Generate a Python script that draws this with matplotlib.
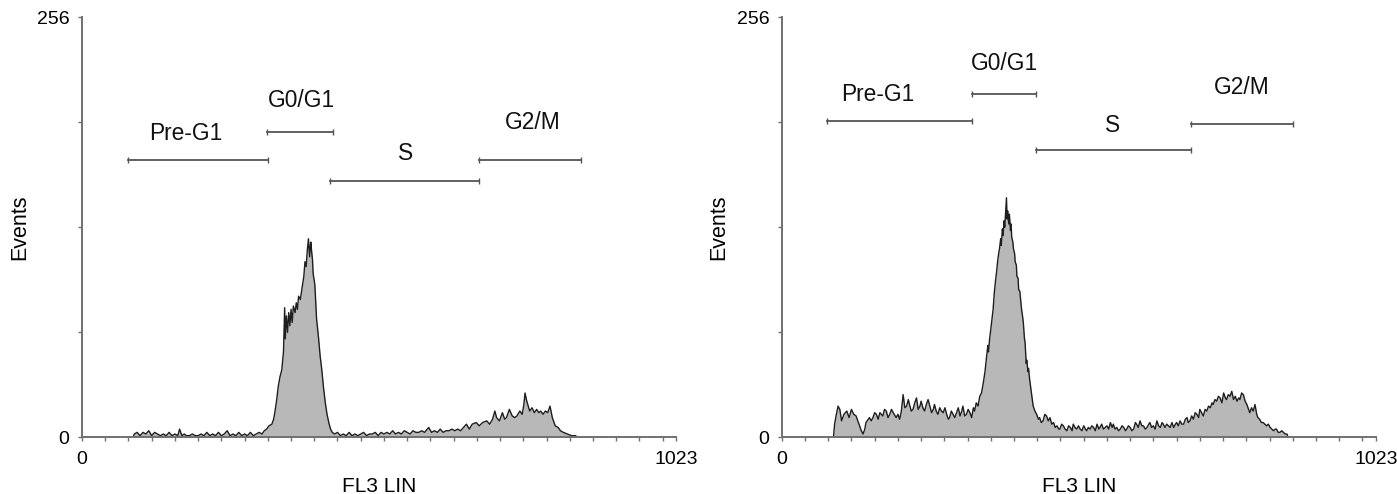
import numpy as np
import matplotlib.pyplot as plt
from matplotlib.ticker import FixedLocator, NullFormatter

plt.rcParams['font.family'] = ['Liberation Sans', 'DejaVu Sans']

# (channel, events) for the untreated sample, left histogram
hist_a = [(88, 0), (90, 2), (95, 3), (100, 1), (105, 3), (110, 2), (115, 4), (120, 1), (125, 3),
          (130, 2), (135, 1), (140, 2), (145, 1), (150, 3), (155, 1), (160, 2), (165, 1), (168, 5),
          (172, 1), (176, 2), (180, 1), (185, 1), (190, 2), (195, 1), (200, 1), (205, 2), (210, 1),
          (215, 3), (220, 1), (225, 2), (230, 1), (235, 3), (240, 1), (245, 2), (250, 4), (255, 1),
          (260, 2), (265, 1), (270, 3), (275, 1), (280, 2), (285, 1), (290, 3), (295, 1), (300, 2),
          (305, 3), (310, 2), (314, 4), (318, 5), (322, 7), (327, 8), (330, 11), (332, 15), (335, 22),
          (338, 31), (341, 37), (344, 41), (347, 52), (349, 79), (350, 60), (352, 74), (354, 64),
          (356, 76), (358, 68), (360, 78), (362, 70), (364, 80), (367, 76), (369, 82), (371, 78),
          (373, 86), (376, 84), (379, 91), (382, 98), (384, 107), (386, 104), (388, 114), (390, 121),
          (392, 110), (394, 119), (395, 115), (397, 108), (398, 100), (401, 93), (404, 72), (407, 62),
          (410, 50), (413, 41), (416, 30), (419, 21), (422, 14), (425, 9), (428, 5), (431, 3),
          (435, 2), (440, 3), (445, 1), (450, 2), (455, 1), (460, 3), (465, 1), (470, 2), (475, 1),
          (480, 2), (485, 3), (490, 1), (495, 2), (500, 2), (505, 3), (510, 1), (515, 3), (520, 2),
          (525, 3), (530, 2), (535, 4), (540, 2), (545, 3), (550, 2), (555, 4), (560, 3), (565, 2),
          (570, 4), (575, 3), (580, 3), (585, 4), (590, 3), (597, 6), (602, 3), (607, 4), (612, 3),
          (617, 5), (622, 3), (627, 4), (632, 4), (637, 5), (642, 4), (647, 5), (652, 4), (657, 6),
          (662, 8), (667, 5), (672, 8), (679, 9), (684, 7), (690, 9), (697, 10), (702, 8), (707, 11),
          (711, 16), (714, 12), (719, 10), (724, 15), (728, 11), (731, 12), (736, 17), (741, 13),
          (745, 12), (749, 13), (754, 16), (758, 14), (761, 20), (763, 27), (766, 22), (771, 16),
          (775, 18), (779, 15), (783, 17), (787, 15), (790, 16), (794, 14), (798, 16), (802, 15),
          (806, 19), (810, 12), (815, 7), (820, 6), (824, 4), (829, 3), (836, 2), (843, 1), (850, 1),
          (853, 0)]

# (channel, events) for the treated sample, right histogram
hist_b = [(89, 0), (91, 8), (94, 14), (97, 19), (100, 17), (103, 10), (107, 14), (112, 16), (116, 12),
          (120, 17), (124, 14), (128, 13), (133, 8), (137, 4), (140, 2), (143, 5), (145, 9), (151, 12),
          (154, 10), (157, 12), (160, 15), (163, 14), (166, 11), (169, 15), (174, 13), (177, 17),
          (180, 16), (183, 12), (186, 14), (189, 17), (192, 15), (197, 12), (200, 14), (203, 11),
          (206, 16), (209, 26), (212, 18), (215, 19), (218, 23), (220, 20), (223, 16), (226, 17),
          (229, 21), (232, 24), (235, 17), (238, 19), (240, 22), (243, 18), (246, 16), (249, 20),
          (252, 23), (255, 19), (258, 15), (261, 17), (263, 20), (266, 16), (269, 14), (272, 18),
          (275, 16), (278, 15), (281, 18), (284, 14), (287, 11), (289, 12), (292, 16), (295, 14),
          (298, 12), (301, 15), (304, 18), (307, 13), (310, 16), (312, 19), (315, 13), (318, 14),
          (321, 17), (324, 15), (327, 12), (330, 18), (332, 16), (335, 21), (338, 19), (341, 25),
          (344, 27), (347, 33), (350, 40), (353, 50), (355, 56), (356, 52), (358, 60), (360, 66),
          (362, 72), (364, 78), (366, 88), (368, 95), (370, 101), (372, 108), (374, 113), (375, 115),
          (377, 121), (378, 117), (380, 127), (381, 123), (383, 132), (384, 128), (386, 140), (387, 146),
          (388, 133), (389, 138), (391, 130), (392, 136), (394, 126), (395, 130), (396, 122), (398, 119),
          (399, 115), (401, 112), (402, 107), (404, 105), (405, 98), (407, 97), (408, 90), (410, 89),
          (412, 82), (413, 78), (415, 73), (416, 70), (418, 60), (419, 58), (421, 45), (422, 47),
          (424, 40), (425, 42), (427, 35), (430, 27), (433, 19), (436, 16), (439, 14), (442, 11),
          (444, 12), (447, 9), (450, 10), (453, 14), (456, 13), (459, 10), (462, 12), (465, 8),
          (468, 9), (471, 6), (474, 7), (477, 5), (479, 5), (482, 8), (485, 7), (488, 5), (491, 4),
          (494, 7), (497, 6), (500, 4), (502, 8), (505, 6), (508, 5), (511, 7), (514, 5), (517, 4),
          (520, 7), (523, 5), (525, 4), (528, 6), (531, 5), (534, 7), (537, 6), (540, 4), (543, 8),
          (546, 5), (548, 6), (551, 8), (554, 5), (557, 6), (560, 7), (563, 5), (566, 9), (569, 6),
          (571, 8), (574, 5), (577, 6), (580, 4), (583, 5), (586, 7), (589, 6), (592, 4), (594, 5),
          (597, 7), (600, 6), (603, 4), (606, 5), (609, 9), (611, 8), (614, 6), (617, 10), (620, 7),
          (623, 7), (626, 5), (629, 6), (632, 8), (634, 9), (637, 6), (640, 7), (643, 5), (646, 10),
          (649, 7), (652, 6), (655, 9), (657, 8), (660, 6), (663, 8), (666, 7), (669, 6), (672, 9),
          (675, 6), (678, 8), (680, 9), (683, 7), (686, 10), (689, 8), (692, 8), (695, 11), (698, 12),
          (700, 9), (703, 10), (706, 13), (709, 11), (712, 15), (715, 14), (718, 12), (720, 17),
          (723, 15), (726, 13), (729, 17), (732, 16), (735, 19), (738, 18), (741, 21), (743, 20),
          (746, 23), (749, 22), (752, 25), (755, 24), (758, 21), (761, 27), (764, 24), (766, 23),
          (769, 26), (772, 25), (775, 28), (778, 23), (781, 25), (784, 22), (787, 24), (789, 23),
          (792, 27), (795, 26), (798, 22), (801, 20), (804, 17), (806, 15), (809, 18), (812, 16),
          (815, 20), (818, 14), (820, 12), (823, 11), (826, 9), (829, 9), (832, 8), (835, 7),
          (838, 8), (841, 6), (844, 5), (847, 4), (850, 5), (852, 5), (855, 3), (858, 3), (861, 4),
          (864, 3), (867, 2), (870, 2), (872, 0)]

# gate markers: (label, start, end, bar level, label x, label y)
gates_a = [("Pre-G1", 80, 320, 169, 179, 185),
           ("G0/G1", 318, 432, 186, 378, 205),
           ("S", 427, 684, 156, 558, 173),
           ("G2/M", 684, 860, 169, 777, 192)]
gates_b = [("Pre-G1", 78, 328, 193, 165, 209),
           ("G0/G1", 327, 438, 209, 383, 228),
           ("S", 438, 704, 175, 570, 190),
           ("G2/M", 704, 880, 191, 792, 213)]

fig = plt.figure(figsize=(13.97, 4.94), dpi=100)
ax_a = fig.add_axes([0.0587, 0.1148, 0.4252, 0.8502])
ax_b = fig.add_axes([0.5596, 0.1148, 0.4252, 0.8502])

axis_col = '#707070'

def histo(ax, hist, gates):
    ch = [c for c, _ in hist]
    ev = [e for _, e in hist]
    ax.fill_between(ch, ev, 0, color='#b8b8b8', lw=0)
    ax.plot(ch, ev, color='#1e1e1e', lw=1.0)

    for name, x0, x1, lvl, tx, ty in gates:
        ax.plot([x0, x1], [lvl, lvl], color='#555555', lw=1.3)
        ax.plot([x0, x1], [lvl, lvl], ls='none', marker='|', ms=4, mew=1.0, color='#555555')
        ax.text(tx, ty, name, ha='center', va='center', fontsize=16.4, color='#111111')

    ax.set_xlim(0, 1023)
    ax.set_ylim(0, 256)
    for s in ('top', 'right'):
        ax.spines[s].set_visible(False)
    for s in ('left', 'bottom'):
        ax.spines[s].set_color(axis_col)
        ax.spines[s].set_linewidth(1.4)

    ax.set_xticks([0, 1023])
    ax.set_yticks([0, 256])
    ax.xaxis.set_minor_locator(FixedLocator(np.arange(40, 1001, 40)))
    ax.yaxis.set_minor_locator(FixedLocator([64, 128, 192]))
    ax.xaxis.set_minor_formatter(NullFormatter())
    ax.yaxis.set_minor_formatter(NullFormatter())
    ax.tick_params(which='both', length=3, width=1.0, color=axis_col, labelsize=14)
    ax.tick_params(axis='x', which='major', pad=7)
    ax.tick_params(axis='y', which='major', pad=6)

    ax.set_xlabel('FL3 LIN', fontsize=15, labelpad=6)
    ax.set_ylabel('Events', fontsize=15.5, labelpad=5)

histo(ax_a, hist_a, gates_a)
histo(ax_b, hist_b, gates_b)

fig.savefig('out.png', dpi=100)
